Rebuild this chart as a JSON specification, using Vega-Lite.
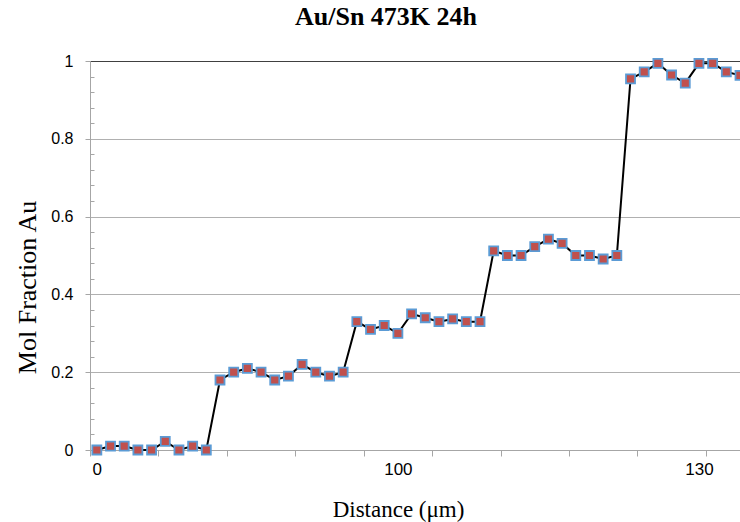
{
  "$schema": "https://vega.github.io/schema/vega-lite/v6.json",
  "autosize": "none",
  "width": 650,
  "height": 389,
  "padding": {"left": 90, "top": 61, "right": 0, "bottom": 72},
  "background": "white",
  "title": {
    "text": "Au/Sn 473K 24h",
    "font": "Liberation Serif",
    "fontSize": 26,
    "fontWeight": "bold",
    "color": "#000000",
    "anchor": "middle",
    "frame": "group",
    "dx": -29,
    "baseline": "alphabetic",
    "offset": 2
  },
  "data": {
    "values": [
      {"i": 0, "mol": 0}, {"i": 1, "mol": 0.01}, {"i": 2, "mol": 0.01}, {"i": 3, "mol": 0},
      {"i": 4, "mol": 0}, {"i": 5, "mol": 0.022}, {"i": 6, "mol": 0}, {"i": 7, "mol": 0.01},
      {"i": 8, "mol": 0}, {"i": 9, "mol": 0.18}, {"i": 10, "mol": 0.2}, {"i": 11, "mol": 0.21},
      {"i": 12, "mol": 0.2}, {"i": 13, "mol": 0.18}, {"i": 14, "mol": 0.19}, {"i": 15, "mol": 0.22},
      {"i": 16, "mol": 0.2}, {"i": 17, "mol": 0.19}, {"i": 18, "mol": 0.2}, {"i": 19, "mol": 0.33},
      {"i": 20, "mol": 0.31}, {"i": 21, "mol": 0.32}, {"i": 22, "mol": 0.3}, {"i": 23, "mol": 0.35},
      {"i": 24, "mol": 0.34}, {"i": 25, "mol": 0.33}, {"i": 26, "mol": 0.337}, {"i": 27, "mol": 0.33},
      {"i": 28, "mol": 0.33}, {"i": 29, "mol": 0.512}, {"i": 30, "mol": 0.5}, {"i": 31, "mol": 0.5},
      {"i": 32, "mol": 0.523}, {"i": 33, "mol": 0.542}, {"i": 34, "mol": 0.531}, {"i": 35, "mol": 0.5},
      {"i": 36, "mol": 0.5}, {"i": 37, "mol": 0.491}, {"i": 38, "mol": 0.5}, {"i": 39, "mol": 0.954},
      {"i": 40, "mol": 0.972}, {"i": 41, "mol": 0.994}, {"i": 42, "mol": 0.964}, {"i": 43, "mol": 0.943},
      {"i": 44, "mol": 0.994}, {"i": 45, "mol": 0.994}, {"i": 46, "mol": 0.972}, {"i": 47, "mol": 0.963}
    ]
  },
  "resolve": {"axis": {"x": "independent", "y": "independent"}},
  "layer": [
    {
      "mark": {"type": "line", "color": "#000000", "strokeWidth": 2},
      "encoding": {
        "x": {
          "field": "i", "type": "quantitative",
          "scale": {"domain": [-0.5, 47], "nice": false, "zero": false},
          "axis": {
            "orient": "bottom",
            "values": [0, 22, 44],
            "labelExpr": "datum.value == 0 ? '0' : datum.value == 22 ? '100' : '130'",
            "ticks": false,
            "grid": false,
            "domainColor": "#A6A6A6",
            "domainWidth": 1,
            "labelFont": "Liberation Sans",
            "labelFontSize": 17,
            "labelColor": "#000000",
            "labelPadding": 11,
            "labelFlush": false,
            "title": "Distance (μm)",
            "titleFont": "Liberation Serif",
            "titleFontSize": 23,
            "titleFontWeight": "normal",
            "titleColor": "#000000",
            "titleX": 308,
            "titleY": 66,
            "titleBaseline": "alphabetic"
          }
        },
        "y": {
          "field": "mol", "type": "quantitative",
          "scale": {"domain": [0, 1], "nice": false},
          "axis": {
            "orient": "left",
            "values": [0, 0.2, 0.4, 0.6, 0.8, 1],
            "format": "~g",
            "grid": true,
            "gridColor": {"condition": {"test": "datum.value == 1", "value": "#404040"}, "value": "#B0B0B0"},
            "gridWidth": 1,
            "tickSize": 5,
            "tickColor": "#A6A6A6",
            "domainColor": "#A6A6A6",
            "labelFont": "Liberation Sans",
            "labelFontSize": 16,
            "labelColor": "#000000",
            "labelPadding": 12,
            "labelFlush": false,
            "title": "Mol Fraction Au",
            "titleFont": "Liberation Serif",
            "titleFontSize": 26,
            "titleFontWeight": "normal",
            "titleColor": "#000000",
            "titleX": -55,
            "titleY": 226,
            "titleAngle": -90,
            "titleAlign": "center",
            "titleBaseline": "alphabetic"
          }
        }
      }
    },
    {
      "mark": {"type": "point", "shape": "square", "filled": true, "size": 81, "fill": "#C0504D", "stroke": "#5B9BD5", "strokeWidth": 1.8, "opacity": 1},
      "encoding": {
        "x": {
          "field": "i", "type": "quantitative",
          "axis": {
            "orient": "bottom",
            "values": [-0.5, 4.5, 9.5, 14.5, 19.5, 24.5, 29.5, 34.5, 39.5, 44.5],
            "labels": false,
            "domain": false,
            "grid": false,
            "tickSize": 6,
            "tickColor": "#A6A6A6",
            "title": null
          }
        },
        "y": {
          "field": "mol", "type": "quantitative",
          "axis": {
            "orient": "left",
            "values": [0.04, 0.08, 0.12, 0.16, 0.24, 0.28, 0.32, 0.36, 0.44, 0.48, 0.52, 0.56, 0.64, 0.68, 0.72, 0.76, 0.84, 0.88, 0.92, 0.96],
            "labels": false,
            "domain": false,
            "grid": false,
            "tickSize": -4,
            "tickColor": "#A6A6A6",
            "title": null
          }
        }
      }
    }
  ]
}
